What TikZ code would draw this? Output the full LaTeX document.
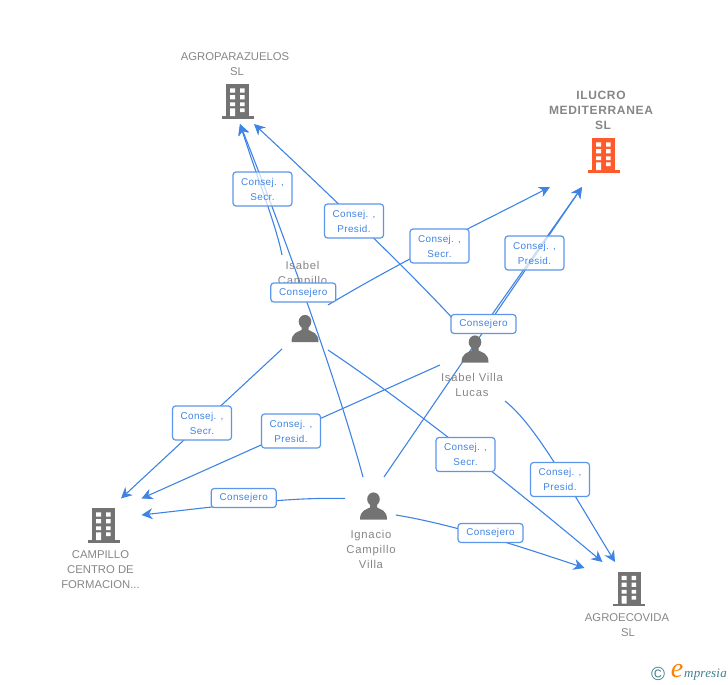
\documentclass[tikz,border=0pt]{standalone}
\usepackage{fontspec}
\setmainfont{Liberation Sans}
\newfontfamily\logofont{Liberation Serif}
\usetikzlibrary{arrows.meta,backgrounds}
\definecolor{edgeblue}{HTML}{3F84E5}
\definecolor{boxblue}{HTML}{5C96EA}
\definecolor{labelgrey}{HTML}{868686}
\definecolor{icongrey}{HTML}{737373}
\definecolor{mainorange}{HTML}{FF5A2C}
\definecolor{logoteal}{HTML}{3F7F90}
\tikzset{
  x=1pt,y=-1pt,
  edge/.style={draw=edgeblue,line width=1.1pt,-{Stealth[length=11pt,width=11pt,inset=3.5pt]}},
  rolebox/.style={draw=boxblue,line width=1.2pt,fill=white,rounded corners=3pt,inner sep=0pt,
    minimum width=59pt,minimum height=34pt,align=center,text=edgeblue,
    font=\fontsize{9.9}{15}\selectfont\addfontfeatures{LetterSpace=4}},
  rolesmall/.style={rolebox,minimum width=65pt,minimum height=19pt},
  seethrough/.style={fill opacity=.72,text opacity=1},
  nlabel/.style={text=labelgrey,align=center,inner sep=0pt,font=\fontsize{11.3}{15}\selectfont},
  plabel/.style={nlabel,font=\fontsize{11.3}{15}\selectfont\addfontfeatures{LetterSpace=6.5}},
  pics/building/.style={code={
    \fill[#1] (-11.5,-17) rectangle (11.5,15);
    \fill[#1] (-16,15) rectangle (16,17.5);
    \fill[white] (-7.5,-12.7) rectangle (-2.5,-8.3) (2.5,-12.7) rectangle (7,-8.3)
      (-7.5,-6) rectangle (-2.5,-1.7) (2.5,-6) rectangle (7,-1.7)
      (-7.5,1.3) rectangle (-2.5,5) (2.5,1.3) rectangle (7,5)
      (-7.5,7.3) rectangle (-2.5,15) (2.5,7.3) rectangle (7,11);
  }},
  pics/person/.style={code={
    \fill[icongrey] (0,-6.8) ellipse (6.3 and 6.8);
    \fill[icongrey] (-3.5,-2) -- (-3.5,1.5) .. controls (-7,3.5) and (-13.5,4) .. (-13.5,13.5)
      -- (13.5,13.5) .. controls (13.5,4) and (7,3.5) .. (3.5,1.5) -- (3.5,-2) -- cycle;
  }},
}
\begin{document}
\begin{tikzpicture}
\useasboundingbox (0,0) rectangle (728,685);

% icons and names
\pic at (237.5,101) {building=icongrey};
\pic at (603.5,155) {building=mainorange};
\pic at (103.5,525) {building=icongrey};
\pic at (629,588.5) {building=icongrey};
\pic at (305,328.5) {person};
\pic at (475,349) {person};
\pic at (373.5,506) {person};

\node[nlabel] (agropar) at (235,64.5) {AGROPARAZUELOS\\\hspace*{4pt}SL};
\node[nlabel,font=\fontsize{12}{15}\selectfont\bfseries\addfontfeatures{LetterSpace=5.5}] (ilucro) at (601,110) {ILUCRO\\MEDITERRANEA\\\hspace*{4pt}SL};
\node[nlabel] (campillo) at (100.5,570) {CAMPILLO\\CENTRO DE\\FORMACION...};
\node[nlabel] (agroeco) at (627,625.5) {AGROECOVIDA\\\hspace*{2pt}SL};
\node[plabel] (isabelc) at (302.5,274.5) {Isabel\\Campillo};
\node[plabel] (isabelv) at (472,384.5) {Isabel Villa\\Lucas};
\node[plabel] (ignacio) at (371,549) {Ignacio\\Campillo\\Villa};

% role boxes
\node[rolebox,seethrough] (b1) at (262.5,189) {\raisebox{-1.5pt}{Consej. ,}\\\raisebox{-1.5pt}{Secr.}};
\node[rolebox] (b2) at (354,221) {\raisebox{-1.5pt}{Consej. ,}\\\raisebox{-1.5pt}{Presid.}};
\node[rolebox] (b3) at (439.5,246) {\raisebox{-1.5pt}{Consej. ,}\\\raisebox{-1.5pt}{Secr.}};
\node[rolebox,seethrough] (b4) at (534.5,253) {\raisebox{-1.5pt}{Consej. ,}\\\raisebox{-1.5pt}{Presid.}};
\node[rolesmall] (b5) at (303.3,292.5) {\raisebox{-1.5pt}{Consejero}};
\node[rolesmall] (b6) at (483.5,324) {\raisebox{-1.5pt}{Consejero}};
\node[rolebox] (b7) at (202,423) {\raisebox{-1.5pt}{Consej. ,}\\\raisebox{-1.5pt}{Secr.}};
\node[rolebox] (b8) at (291,431) {\raisebox{-1.5pt}{Consej. ,}\\\raisebox{-1.5pt}{Presid.}};
\node[rolesmall] (b9) at (243.7,498) {\raisebox{-1.5pt}{Consejero}};
\node[rolebox] (b10) at (465.5,454.5) {\raisebox{-1.5pt}{Consej. ,}\\\raisebox{-1.5pt}{Secr.}};
\node[rolebox] (b11) at (560,479.5) {\raisebox{-1.5pt}{Consej. ,}\\\raisebox{-1.5pt}{Presid.}};
\node[rolesmall] (b12) at (490.5,533) {\raisebox{-1.5pt}{Consejero}};

% connector ends
\coordinate (tipAa) at (240,124);
\coordinate (tipAb) at (254,124);
\coordinate (tipIa) at (550,187);
\coordinate (tipIb) at (582,187);
\coordinate (tipCa) at (121,498.5);
\coordinate (tipCb) at (141.5,498.5);
\coordinate (tipCc) at (141.5,515);
\coordinate (tipEa) at (602.5,562);
\coordinate (tipEb) at (615,562);
\coordinate (tipEc) at (584.5,568);
\coordinate (icN) at (282,255);
\coordinate (icNE) at (328,305);
\coordinate (icSW) at (282,349);
\coordinate (icSE) at (328,350);
\coordinate (ivNW) at (456,322);
\coordinate (ivNE) at (491,316);
\coordinate (ivW) at (440,365);
\coordinate (ivSE) at (505,401);
\coordinate (inN) at (363,477);
\coordinate (inNE) at (384,477);
\coordinate (inW) at (345,498.5);
\coordinate (inE) at (396,515);

% connectors
\begin{scope}[on background layer]
\path[edge] (icN) .. controls (276,225) and (258,180) .. (tipAa);
\path[edge] (inN) .. controls (338,385) and (288,245) .. (tipAa);
\path[edge] (ivNW) .. controls (410,272) and (330,195) .. (tipAb);
\path[edge] (icNE) .. controls (400,262) and (470,228) .. (tipIa);
\path[edge] (ivNE) -- (tipIb);
\path[edge] (inNE) -- (tipIb);
\path[edge] (icSW) -- (tipCa);
\path[edge] (ivW) -- (tipCb);
\path[edge] (inW) .. controls (290,497) and (230,505) .. (tipCc);
\path[edge] (icSE) .. controls (400,398) and (500,476) .. (tipEa);
\path[edge] (ivSE) .. controls (535,425) and (565,480) .. (tipEb);
\path[edge] (inE) .. controls (450,524) and (510,543) .. (tipEc);
\end{scope}

% logo
\node[inner sep=0pt,text=logoteal,font=\fontsize{19}{19}\selectfont] (copy) at (658,674) {©};
\node[inner sep=0pt,text=orange,font=\logofont\itshape\fontsize{28}{28}\selectfont] (elogo) at (677,671) {e};
\node[inner sep=0pt,anchor=west,text=logoteal,font=\logofont\itshape\fontsize{13}{13}\selectfont\addfontfeatures{LetterSpace=1.5}] (mlogo) at (684,675) {mpresia};
\end{tikzpicture}
\end{document}
